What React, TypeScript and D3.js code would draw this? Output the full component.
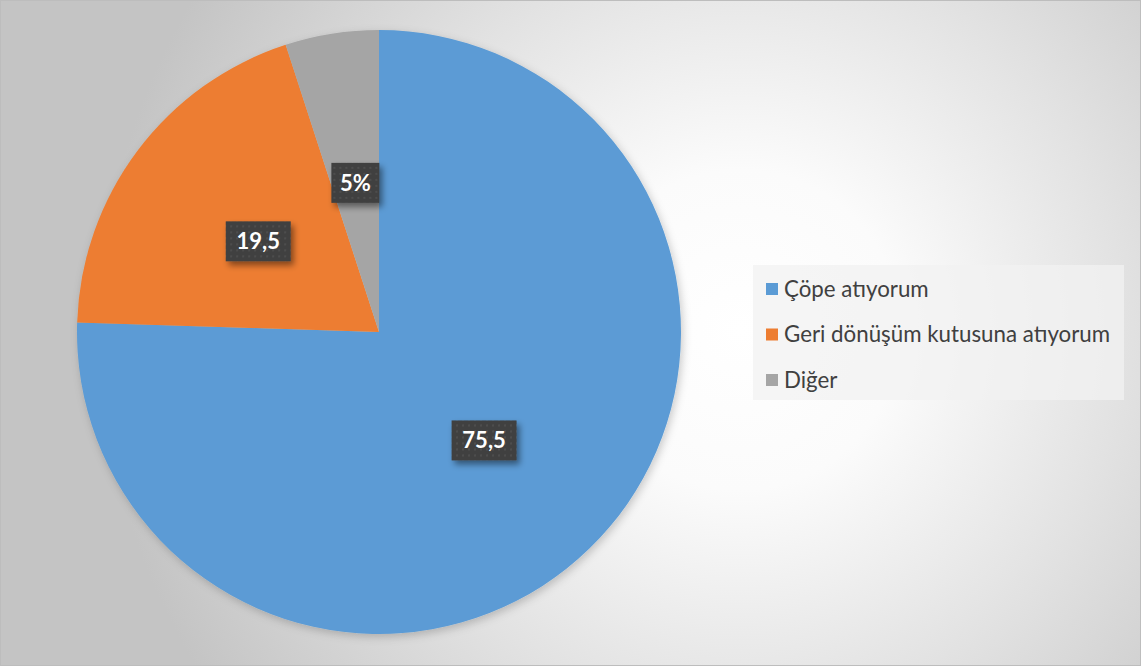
import React from "react";
import * as d3 from "d3";

const categories = ["Çöpe atıyorum", "Geri dönüşüm kutusuna atıyorum", "Diğer"];
const values = [75.5, 19.5, 5];
const labels = ["75,5", "19,5", "5%"];
const colors = ["#5B9BD5", "#ED7D31", "#A5A5A5"];

const W = 1141;
const H = 666;
const cx = 379;
const cy = 332;
const R = 302;

export default function App() {
  const pie = d3.pie<number>().sort(null).value((d) => d)(values);
  const arc = d3.arc<d3.PieArcDatum<number>>().innerRadius(0).outerRadius(R);
  const labelArc = d3.arc<d3.PieArcDatum<number>>().innerRadius(0).outerRadius(R);

  const legendX = 753;
  const legendY = 265;
  const legendW = 371;
  const legendH = 135;
  const rowGap = 45.5;

  return (
    <svg
      width={W}
      height={H}
      style={{ position: "absolute", left: 0, top: 0, fontFamily: "Lato, 'Open Sans', sans-serif" }}
    >
      <defs>
        <radialGradient id="bg" gradientUnits="userSpaceOnUse" cx={740} cy={330} r={640}>
          <stop offset="0" stopColor="#ffffff" />
          <stop offset="0.25" stopColor="#fbfbfb" />
          <stop offset="0.6" stopColor="#e2e2e2" />
          <stop offset="1" stopColor="#c4c4c4" />
        </radialGradient>
        <pattern id="dots" width="6" height="6" patternUnits="userSpaceOnUse">
          <rect width="6" height="6" fill="#404040" />
          <rect x="2" y="2" width="2" height="2" fill="#4e4e4e" />
        </pattern>
        <filter id="lshadow" x="-30%" y="-30%" width="170%" height="170%">
          <feDropShadow dx="3" dy="4" stdDeviation="3" floodColor="#000" floodOpacity="0.45" />
        </filter>
        <filter id="pshadow" x="-10%" y="-10%" width="120%" height="120%">
          <feDropShadow dx="2" dy="3" stdDeviation="4" floodColor="#000" floodOpacity="0.2" />
        </filter>
      </defs>
      <rect x={0.5} y={0.5} width={W - 1} height={H - 1} fill="url(#bg)" stroke="#bdbdbd" />
      <g transform={`translate(${cx},${cy})`} filter="url(#pshadow)">
        {pie.map((p, i) => (
          <path key={i} d={arc(p) || ""} fill={colors[i]} />
        ))}
      </g>
      <g transform={`translate(${cx},${cy})`}>
        {pie.map((p, i) => {
          const [x, y] = labelArc.centroid(p);
          const bw = labels[i].length > 2 ? 65 : 48;
          const bh = 40;
          return (
            <g key={i} transform={`translate(${x},${y})`}>
              <rect x={-bw / 2} y={-bh / 2} width={bw} height={bh} fill="url(#dots)" filter="url(#lshadow)" />
              <text
                textAnchor="middle"
                dy="0.35em"
                fill="#ffffff"
                fontWeight="bold"
                fontSize={22}
              >
                {labels[i]}
              </text>
            </g>
          );
        })}
      </g>
      <rect x={legendX} y={legendY} width={legendW} height={legendH} fill="#f2f2f2" fillOpacity={0.75} />
      {categories.map((c, i) => {
        const y = legendY + 24 + i * rowGap;
        return (
          <g key={i}>
            <rect x={766} y={y - 6} width={12} height={12} fill={colors[i]} />
            <text x={784} y={y} dy="0.35em" fontSize={22.3} fill="#404040">
              {c}
            </text>
          </g>
        );
      })}
    </svg>
  );
}
